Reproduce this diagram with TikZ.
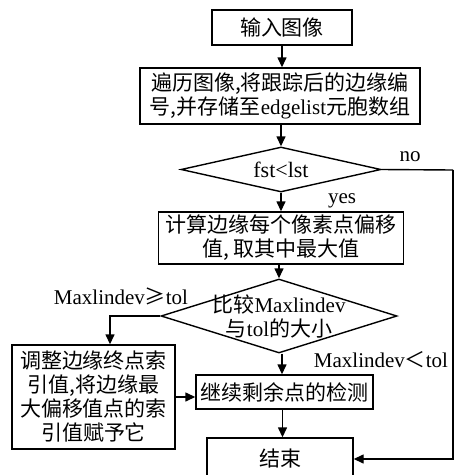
\documentclass[tikz,border=0pt]{standalone}
\usepackage{fontspec}
\setmainfont{Liberation Serif}
\newfontfamily\cjk{Noto Sans CJK SC}
\newcommand{\zh}[1]{{\cjk #1}}
\usetikzlibrary{arrows.meta,shapes.geometric,calc}
\begin{document}
\begin{tikzpicture}[x=1pt,y=-1pt,
  every node/.style={font=\fontsize{21}{24}\selectfont},
  box/.style={draw,line width=1.4pt,inner sep=0pt,align=center},
  dia/.style={draw,line width=1.4pt,shape=diamond,inner sep=0pt,aspect=1},
  txt/.style={inner sep=0pt,align=center},
  arr/.style={line width=1.4pt,-{Triangle[length=10pt,width=9pt]}},
  ln/.style={line width=1.4pt}]
\useasboundingbox (0,0) rectangle (454,475);
\node[box,minimum width=140pt,minimum height=35pt] (b1) at (282,27.5) {\zh{输入图像}};
\node[box,minimum width=280pt,minimum height=56pt] (b2) at (280,96) {\zh{遍历图像,将跟踪后的边缘编}\\\zh{号,并存储至}edgelist\zh{元胞数组}};
\node[dia,minimum width=200pt,minimum height=45pt] (d1) at (281,169.5) {};
\node[txt,font=\fontsize{22}{24}\selectfont] (d1t) at (d1.center) {fst<lst};
\node[box,minimum width=245pt,minimum height=52pt] (b3) at (281,238) {\zh{计算边缘每个像素点偏移}\\\zh{值, 取其中最大值}};
\node[dia,minimum width=236pt,minimum height=74pt] (d2) at (279,316) {};
\node[txt] (d2t) at (d2.center) {\zh{比较}Maxlindev\\\zh{与}tol\zh{的大小}};
\node[box,minimum width=163pt,minimum height=104pt] (b4) at (93.5,397) {\zh{调整边缘终点索}\\\zh{引值,将边缘最}\\\zh{大偏移值点的索}\\\zh{引值赋予它}};
\node[box,minimum width=177pt,minimum height=34pt] (b5) at (284.5,392) {\zh{继续剩余点的检测}};
\node[box,minimum width=146pt,minimum height=42pt] (b6) at (280,459) {\zh{结束}};
\node[txt] (lno) at (410,157) {no};
\node[txt] (lyes) at (342,201) {yes};
\node[txt] (lge) at (121,296) {Maxlindev\zh{≥}tol};
\node[txt] (llt) at (381,360) {Maxlindev\zh{＜}tol};
\coordinate (c1) at (453,170);
\draw[arr] (b1.south) -- (b1.south |- b2.north);
\draw[arr] (b2.south -| d1.north) -- (d1.north);
\draw[arr] (d1.south) -- (d1.south |- b3.north);
\draw[arr] (b3.south -| d2.north) -- (d2.north);
\draw[arr] (d2.west) -| ([xshift=16.5pt]b4.north);
\draw[arr] ([xshift=3pt]d2.south) -- ([xshift=3pt]d2.south |- b5.north);
\draw[arr] (b4.east) -- (b4.east -| b5.west);
\draw[arr] ([xshift=-2pt]b5.south) -- ([xshift=-2pt]b5.south |- b6.north);
\draw[ln] (d1.east) -- (c1);
\draw[arr] (c1) -- (c1 |- b6.east) -- (b6.east);
\end{tikzpicture}
\end{document}
